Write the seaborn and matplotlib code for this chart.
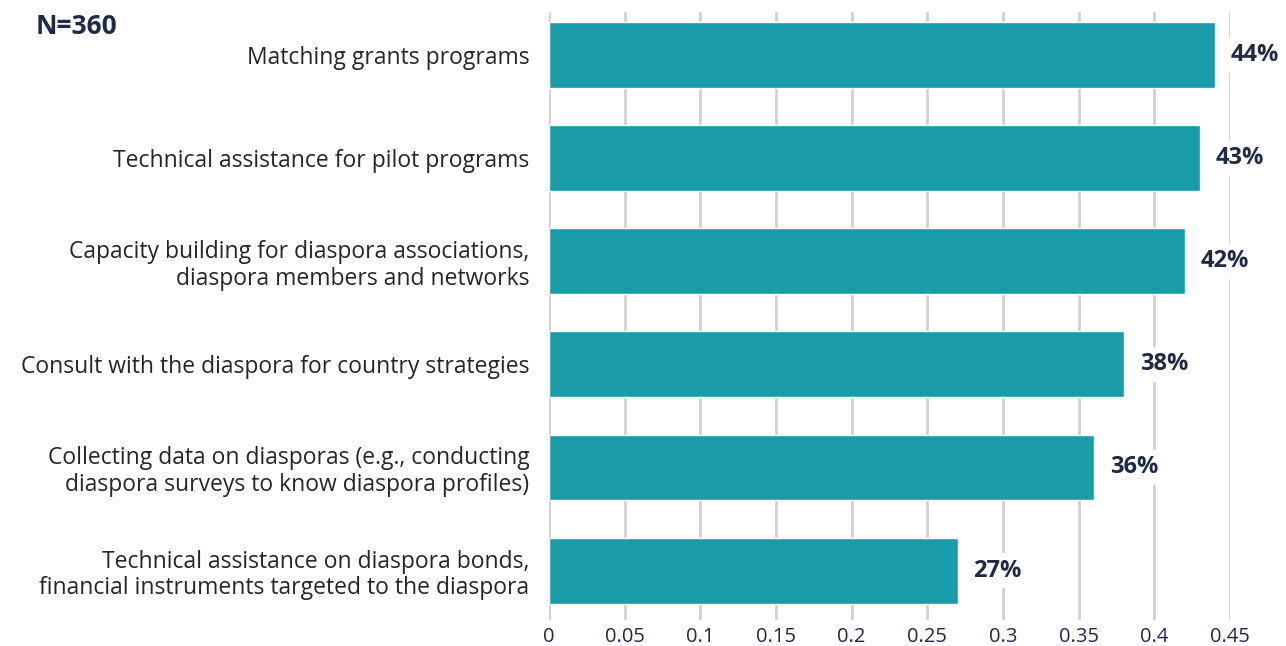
import matplotlib
matplotlib.use("Agg")
import matplotlib.pyplot as plt
import seaborn as sns
import pandas as pd

categories = [
    "Matching grants programs",
    "Technical assistance for pilot programs",
    "Capacity building for diaspora associations,\ndiaspora members and networks",
    "Consult with the diaspora for country strategies",
    "Collecting data on diasporas (e.g., conducting\ndiaspora surveys to know diaspora profiles)",
    "Technical assistance on diaspora bonds,\nfinancial instruments targeted to the diaspora",
]
values = [0.44, 0.43, 0.42, 0.38, 0.36, 0.27]
value_labels = ["44%", "43%", "42%", "38%", "36%", "27%"]
xticks = [0, 0.05, 0.1, 0.15, 0.2, 0.25, 0.3, 0.35, 0.4, 0.45]
xtick_labels = ["0", "0.05", "0.1", "0.15", "0.2", "0.25", "0.3", "0.35", "0.4", "0.45"]

sns.set_theme(style="white")
plt.rcParams["font.family"] = ["Open Sans", "DejaVu Sans"]

navy = "#1f2a44"
teal = "#1a9ba8"

df = pd.DataFrame({"cat": categories, "val": values})
fig = plt.figure(figsize=(12.86, 6.46), dpi=100)
ax = fig.add_axes([549/1286, 1-620/646, (1230-549)/1286, (620-12)/646])
sns.barplot(data=df, x="val", y="cat", color=teal, width=0.64, ax=ax, zorder=3, saturation=1)

ax.set_xlim(0, 0.45)
ax.set_ylim(5.48, -0.42)
ax.set_xticks(xticks)
ax.set_xticklabels(xtick_labels, fontsize=14.5, color=navy)
ax.set_xlabel("")
ax.set_ylabel("")
ax.tick_params(axis="both", length=0)
ax.tick_params(axis="x", pad=5)
ax.tick_params(axis="y", pad=14)
for lab in ax.get_yticklabels():
    lab.set_fontsize(16.5)
    lab.set_color("#262626")
    lab.set_linespacing(1.15)
for s in ax.spines.values():
    s.set_visible(False)
ax.grid(axis="x", color="#d0d0d0", linewidth=2, zorder=0)
ax.set_axisbelow(True)

for i, (v, t) in enumerate(zip(values, value_labels)):
    ax.text(v + 0.0105, i, t, va="center", ha="left", fontsize=17, fontweight="bold",
            color=navy, zorder=4,
            bbox=dict(facecolor="white", edgecolor="none", pad=4))

fig.text(36/1286, 1-26/646, "N=360", fontsize=19, fontweight="bold", color=navy, va="center", ha="left")

fig.savefig("out.png", dpi=100)
